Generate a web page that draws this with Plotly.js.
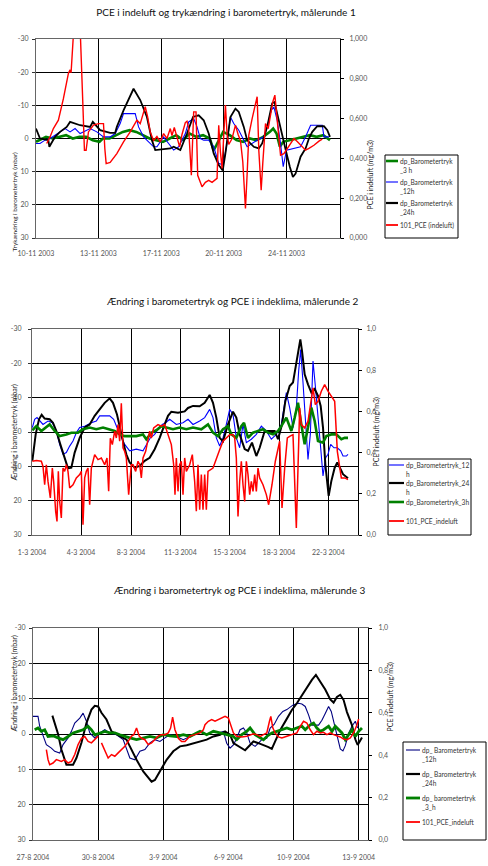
<!DOCTYPE html>
<html>
<head>
<meta charset="utf-8">
<script src="https://cdn.plot.ly/plotly-3.0.1.min.js"></script>
<style>html,body{margin:0;padding:0;background:#fff;}#chart{width:488px;height:866px;}</style>
</head>
<body>
<div id="chart"></div>
<script>
// ---------- tick labels ----------
const x1Ticks = [0, 187, 375, 562, 750];
const x1Labels = ["10-11 2003", "13-11 2003", "17-11 2003", "20-11 2003", "24-11 2003"];
const x2Ticks = [0, 147, 297, 445, 593, 741, 889];
const x2Labels = ["1-3 2004", "4-3 2004", "8-3 2004", "11-3 2004", "15-3 2004", "18-3 2004", "22-3 2004"];
const x3Ticks = [0, 195, 390, 585, 780, 975];
const x3Labels = ["27-8 2004", "30-8 2004", "3-9 2004", "6-9 2004", "10-9 2004", "13-9 2004"];
const yLeftVals = [-30, -20, -10, 0, 10, 20, 30];
const yLeftText = ["-30", "-20", "-10", "0", "10", "20", "30"];
const yRightVals = [0, 0.2, 0.4, 0.6, 0.8, 1.0];
const yRight1Text = ["0,000", "0,200", "0,400", "0,600", "0,800", "1,000"];
const yRight23Text = ["0,0", "0,2", "0,4", "0,6", "0,8", "1,0"];

// ---------- målerunde 1 ----------
const g1x = [0,10,30,50,70,90,110,130,150,170,190,200,220,240,260,280,300,320,340,360,380,400,420,440,460,480,500,520,532,540,550,560,580,600,620,640,660,680,700,710,720,730,740,760,780,800,820,840,860,880];
const g1y = [1,0.5,-0.5,0,-0.5,-1,0,-0.5,-0.5,0.5,1,0,0,-1,-2,-2.5,-2,-1,0,0.5,1,0,-1,0.5,-1.5,-0.5,-1,0,3.5,2,0,-2,-1,0.5,1,0,0.5,-0.5,-2,-3,-1.5,2.5,1,0.5,0,-0.5,-1,-0.5,-1,0.5];
const b1x = [0,12,27,42,57,72,87,102,117,132,142,162,182,202,222,237,252,262,297,307,322,337,342,352,362,382,397,412,427,437,447,457,472,482,492,502,517,532,547,560,570,582,592,607,622,632,662,682,692,704,712,722,732,740,750,792,807,822,857,862,877];
const b1y = [1.5,1.5,0.5,0,-1,-2,-3,-2,-3,-1.5,-2,-3,-2,-0.5,-0.5,-1.5,-4.5,-7.5,-7.5,-3.5,-0.5,1,1.5,2.5,2.5,-0.5,1.5,3.5,2.5,0.5,-1.5,-5,-6,-3.5,0,0.5,0.5,2.5,7.5,8,2.5,-6.5,-4.5,-2.5,0.5,2.5,0.5,-0.5,-3.5,-8.5,-9.5,-5.5,1.5,8.5,3.5,2.5,-0.5,-4,-4,-0.5,-0.5];
const k1x = [0,12,37,40,57,72,92,102,132,162,170,192,222,237,242,262,292,312,332,347,357,402,412,432,452,470,487,502,517,532,547,559,567,582,597,607,622,632,652,667,677,692,707,714,722,737,750,760,769,777,792,807,817,827,842,862,872,880];
const k1y = [-3,0,0.5,2.5,-0.5,-2,-3.5,-5,-4,-3.5,-5,-2.5,-1.7,-1.7,-3.5,-8.5,-15,-11.6,-6.5,0.5,3.5,3,2.5,3.5,-1.5,-6.5,-7,-5.5,-1.5,4.5,8,9.6,4.5,-6.5,-9,-8,-3.5,0.5,2.5,3,1.5,-3.5,-10.6,-11,-7.5,-0.5,4.5,8.6,11.6,10.6,5.5,3,0,-2,-3.7,-3.7,-2.5,-0.5];
const r1x = [32,42,52,67,82,97,102,105,113,118,128,134,140,145,150,157,172,187,202,206,210,222,242,262,282,302,312,327,334,342,352,362,372,382,392,402,407,414,422,430,437,447,452,457,465,472,479,484,497,507,517,527,542,547,552,557,562,567,572,577,587,597,605,612,619,627,632,637,647,657,662,667,674,679,687,695,702,709,715,722,732,742,752,762,772,782,792,807,817,832,847,857];
const r1y = [0.475,0.508,0.55,0.592,0.70,0.827,0.845,0.83,1.05,1.25,1.25,1.0,0.685,0.441,0.441,0.533,0.567,0.575,0.575,0.45,0.374,0.38,0.424,0.483,0.533,0.592,0.575,0.66,0.61,0.533,0.49,0.51,0.483,0.525,0.5,0.55,0.515,0.555,0.5,0.458,0.52,0.58,0.587,0.55,0.315,0.634,0.634,0.315,0.257,0.28,0.29,0.28,0.3,0.567,0.433,0.349,0.517,0.668,0.52,0.47,0.5,0.567,0.52,0.49,0.383,0.148,0.32,0.517,0.60,0.668,0.71,0.44,0.24,0.38,0.575,0.55,0.617,0.685,0.718,0.584,0.416,0.424,0.45,0.47,0.5,0.485,0.466,0.441,0.45,0.466,0.487,0.497];

// ---------- målerunde 2 ----------
const b2x = [1,8,15,23,33,48,61,73,83,93,103,113,123,133,143,158,178,193,203,233,245,255,265,278,293,313,333,343,355,368,378,391,401,413,433,453,468,483,503,518,533,543,553,563,573,583,593,603,613,623,633,643,658,673,688,703,718,733,748,763,773,783,793,800,806,813,820,828,835,843,850,858,866,873,881,888,896,906,916,926,933,943,948];
const b2y = [-1.3,-3.7,-4.2,-3.2,-2.2,-3.2,-2.7,-0.3,3.6,6.5,6,4.1,2.6,0.2,-1.3,-1.7,-2.7,-3.2,-4.7,-4.7,-3.7,-1.3,0.7,3.6,5.5,5,5.5,3.6,1.7,0.7,-0.8,-2.2,-2.7,-3.7,-2.2,-2.7,-3.7,-2.2,-3.2,-4.2,-6.6,-4.2,1.7,4.1,1.7,-2.2,-6.6,-5.1,1.7,4.6,-2.2,3.1,2.1,0.7,-1.7,-0.3,2.1,0.7,-2.2,-11.5,-7.1,-1.3,-7.1,-17.8,-24,-14.4,-3.2,8,0.7,-20.7,-13.4,-5.1,4.6,12.8,7.5,6.5,3.6,4.6,4.6,5.5,7,7,6.5];
const k2x = [1,11,21,29,38,53,63,73,85,98,108,118,128,143,158,173,188,203,218,233,243,255,265,275,283,293,308,323,338,353,368,383,398,408,418,438,458,468,483,503,518,533,543,553,563,573,588,603,613,623,638,648,660,673,683,698,713,728,738,750,760,773,783,793,800,805,810,818,828,838,848,858,866,873,880,890,898,908,916,923,933,948];
const k2y = [8.4,0.7,-3.7,-5,-3.9,-3.7,-2.7,-0.3,3.6,8,10.6,10.4,6,1.7,-1.3,-2.2,-4.7,-6.6,-8.5,-9.8,-8.5,-5.1,-0.3,3.6,6.5,8.9,10.4,9.9,8.4,7.5,5,1.7,-2.2,-4.7,-5.9,-5.6,-6,-7,-7.6,-7.5,-8.5,-10.8,-8.5,-4.2,1.7,2.7,-2.2,-5.9,-4.2,0.7,5,5.5,3.1,7,4.6,-0.3,-0.3,-0.3,2.1,-2.2,-9,-13.4,-14.4,-19.7,-24.6,-27,-23.6,-16.8,-13.9,-11.5,-12.5,-10.5,-7.6,-1.3,9.4,18.6,14.3,10.4,8.9,10.4,12.3,13.5];
const g2x = [1,13,28,43,53,68,83,103,118,138,153,173,193,213,233,248,263,278,293,313,333,343,358,373,388,403,423,443,463,483,508,528,543,558,573,588,598,613,628,636,648,663,678,693,708,723,738,748,763,778,788,798,808,818,828,838,848,858,873,883,898,913,928,938,948];
const g2y = [-0.5,-1.7,-0.3,-1.3,-2.2,-0.3,1.2,0.7,0.2,0.2,-0.8,-1.3,-0.8,-1.3,-0.8,-0.3,0.7,1.2,1.2,1.2,0.7,2.1,0.2,-0.5,-1.7,-1.3,-0.8,-1.3,-0.8,-1.3,-0.8,-2.2,0.2,1.2,-0.8,-1.7,0.7,1.7,-1.7,-2.7,1.7,0.2,-0.3,-0.8,0.2,0.7,-0.3,-1.7,-4.2,-0.3,-4.2,-8.5,-2.2,3.6,-1.3,-7.1,-3.2,2.6,3.1,1.2,0.7,0.7,2.1,1.7,1.7];
const r2x = [1,13,28,33,38,43,48,55,61,65,71,75,79,83,88,93,98,103,108,113,123,133,143,148,153,158,163,168,173,178,188,198,208,218,225,230,235,241,248,253,258,263,268,273,278,283,290,298,303,311,318,323,328,333,341,348,353,358,365,378,388,398,408,418,425,429,433,438,443,448,453,458,463,473,481,488,493,498,503,508,513,518,523,528,543,553,563,573,583,593,603,608,613,618,623,628,633,638,643,648,653,658,663,668,673,678,683,693,703,710,720,730,743,750,758,766,773,783,793,803,808,818,828,838,843,850,858,868,878,888,898,908,916,923,928,938,948];
const r2y = [0.358,0.361,0.358,0.333,0.244,0.341,0.26,0.18,0.325,0.26,0.115,0.066,0.309,0.163,0.083,0.325,0.309,0.341,0.309,0.228,0.244,0.277,0.293,0.309,0.05,0.277,0.309,0.325,0.147,0.325,0.39,0.366,0.374,0.341,0.374,0.212,0.47,0.439,0.504,0.471,0.536,0.455,0.64,0.423,0.406,0.374,0.196,0.341,0.341,0.309,0.358,0.341,0.277,0.374,0.406,0.455,0.504,0.471,0.52,0.536,0.528,0.536,0.487,0.439,0.341,0.196,0.374,0.212,0.341,0.358,0.196,0.374,0.309,0.341,0.39,0.26,0.115,0.341,0.123,0.293,0.123,0.293,0.123,0.309,0.325,0.374,0.414,0.455,0.471,0.487,0.487,0.471,0.374,0.09,0.26,0.358,0.244,0.163,0.358,0.293,0.196,0.26,0.212,0.293,0.212,0.325,0.277,0.244,0.196,0.147,0.244,0.358,0.455,0.131,0.325,0.471,0.479,0.487,0.034,0.617,0.536,0.52,0.552,0.665,0.714,0.633,0.649,0.698,0.73,0.698,0.673,0.649,0.406,0.342,0.277,0.277,0.269];

// ---------- målerunde 3 ----------
const b3x = [0,15,20,30,40,55,65,80,90,105,115,125,140,150,160,170,185,200,215,230,250,270,280,290,305,320,335,350,365,380,395,410,430,450,470,490,505,520,540,555,570,580,590,600,610,620,630,640,650,665,675,685,700,710,722,735,748,760,780,795,805,815,825,835,855,865,875,885,893,900,910,920,928,935,945,955,965,972];
const b3y = [-5,-5,-2.2,0.7,3,4,4.9,5.4,3,1.1,-0.75,-3.1,-4.5,-5.9,-3.6,-0.3,1.1,-0.3,-1.2,-0.3,0.2,1.6,4.4,6.8,7.3,4.9,4.4,2.5,1.6,2.1,1.1,0.2,0.7,1.6,0.7,-0.3,-0.75,0.2,-0.75,-0.3,-0.75,2.6,4,3.1,1.2,-1.2,-1.7,-0.3,2.6,3.5,2.6,1.6,1.2,-1.7,-2.7,-5,-6.4,-6.9,-8.3,-8.7,-8.5,-7.8,-5.4,-2.5,-2.5,-3.9,-5.8,-7.8,-6.4,-3.6,0.5,4.2,4.8,3.3,-0.2,-2.2,-3.6,-1.7];
const k3x = [58,75,85,100,120,130,145,160,175,185,195,205,220,235,255,280,290,310,330,345,355,365,385,400,420,440,460,480,500,520,540,560,575,590,600,620,635,650,660,675,690,705,715,725,740,755,775,790,805,820,835,847,860,875,890,900,910,920,930,940,955,965,972,980,985];
const k3y = [-5.2,0,4.4,8.7,8.7,6.8,2.5,-3.1,-6.9,-8,-7.8,-6,-4.1,-0.75,0.3,1.6,3.5,7.3,10.6,12.5,13.5,13,9.6,7.3,4.9,3.5,3.2,2.7,2.1,1.6,0.7,0.2,-0.75,0.2,2.6,3.7,4.6,3.1,2.1,2.6,3.1,3.7,4.2,2.1,-1.1,-3.5,-6.8,-8.7,-11,-13.4,-15.3,-16.7,-14.8,-12.6,-9.8,-8.9,-10.5,-11.1,-9.6,-6.2,-2.5,1.5,3.1,1.6,1];
const g3x = [5,15,25,35,45,60,75,90,105,120,135,150,165,175,185,200,215,230,245,260,275,290,310,330,350,370,390,410,430,450,470,490,500,520,540,560,580,600,610,625,640,650,665,680,690,700,715,730,745,760,775,790,805,815,830,840,850,860,870,885,895,905,915,925,935,945,955,965,975,985];
const g3y = [-1.2,-1.7,-0.75,-1.2,0.7,0.5,1.1,1.6,0.7,-0.3,-0.75,-1.2,-2.2,-1.2,0.2,-0.3,-0.75,-0.3,-0.3,0.2,0.7,1.1,1.6,1.1,0.7,1.1,0.2,0.5,0.7,0.2,0.7,-0.3,-0.75,0.2,-0.75,-0.3,0.2,0.7,1.6,0.2,-0.75,-1.7,0.2,1.1,1.6,0.7,-0.3,-0.75,-1.2,-1.7,-1.2,-1.7,-2.2,-1.2,-2.6,-3.1,-1.7,-0.75,-1.2,-2.2,-0.75,-2.2,-1.2,-0.3,1.6,0.2,-1.2,0.7,-0.75,-1.7];
const r3x = [40,45,50,60,70,85,95,105,115,125,135,145,155,165,175,185,195,200,205,215,225,235,245,255,265,275,285,295,302,310,318,325,335,345,355,365,375,385,395,405,412,418,425,435,445,455,470,485,500,510,515,525,535,545,555,565,575,585,592,600,610,625,640,650,660,670,680,690,700,708,712,718,725,735,745,760,775,790,800,810,820,830,840,850,860,870,880,890,900,910,920,930,940,950,960,970,975];
const r3y = [0.426,0.379,0.355,0.363,0.379,0.371,0.379,0.363,0.371,0.403,0.45,0.48,0.488,0.465,0.458,0.473,0.49,null,0.458,0.418,0.387,0.403,0.395,0.411,0.426,0.442,0.465,0.49,0.497,0.528,0.49,0.48,0.473,0.45,0.458,0.473,0.49,0.497,0.497,0.505,0.528,0.58,0.52,0.48,0.465,0.465,0.49,0.497,0.505,0.52,0.544,0.56,0.568,0.56,0.568,0.575,0.583,0.575,0.544,0.505,0.489,0.486,0.489,0.497,0.501,0.497,0.489,0.497,0.505,0.56,0.583,0.529,0.505,0.486,0.481,0.489,0.497,0.505,0.536,0.56,0.552,0.52,0.497,0.513,0.505,0.508,0.497,0.505,0.497,0.493,0.486,0.476,0.473,0.481,0.505,0.544,0.571];

// ---------- titles & names ----------
const titles = [
  "PCE i indeluft og trykændring i barometertryk, målerunde 1",
  "Ændring i barometertryk og PCE i indeklima, målerunde 2",
  "Ændring i barometertryk og PCE i indeklima, målerunde 3"
];
const leftTitles = ["Trykændring i barometertryk (mbar)", "Ændring i barometertryk (mbar)", "Ændring i barometertryk (mbar)"];
const rightTitle = "PCE i indeluft (mg/m3)";
const names1 = ["dp_Barometertryk<br>_3 h", "dp_Barometertryk<br>_12h", "dp_Barometertryk<br>_24h", "101_PCE (indeluft)"];
const names2 = ["dp_Barometertryk_12<br>h", "dp_Barometertryk_24<br>h", "dp_Barometertryk_3h", "101_PCE_indeluft"];
const names3 = ["dp_ Barometertryk<br>_12h", "dp_ Barometertryk<br>_24h", "dp_ barometertryk<br>_3_h", "101_PCE_indeluft"];

// ---------- styling ----------
const FONT = "Lato, 'Open Sans', sans-serif";
const GREEN = "#008000", BLUE = "#0000ff", NAVY = "#000080", BLACK = "#000000", RED = "#ff0000";
const W = 488, H = 866;
const px = v => v / W;
const py = v => 1 - v / H;

function tr(x, y, xa, ya, color, width, name) {
  return {x: x, y: y, xaxis: xa, yaxis: ya, type: 'scatter', mode: 'lines', name: name,
          line: {color: color, width: width}, showlegend: false, connectgaps: false, hoverinfo: 'skip'};
}

const data = [
  tr(g1x, g1y, 'x', 'y', GREEN, 2.6, names1[0]),
  tr(b1x, b1y, 'x', 'y', BLUE, 1.1, names1[1]),
  tr(k1x, k1y, 'x', 'y', BLACK, 1.8, names1[2]),
  tr(r1x, r1y, 'x', 'y2', RED, 1.4, names1[3]),
  tr(b2x, b2y, 'x2', 'y3', BLUE, 1.1, names2[0]),
  tr(k2x, k2y, 'x2', 'y3', BLACK, 2.0, names2[1]),
  tr(g2x, g2y, 'x2', 'y3', GREEN, 2.6, names2[2]),
  tr(r2x, r2y, 'x2', 'y4', RED, 1.5, names2[3]),
  tr(b3x, b3y, 'x3', 'y5', NAVY, 1.1, names3[0]),
  tr(k3x, k3y, 'x3', 'y5', BLACK, 2.0, names3[1]),
  tr(g3x, g3y, 'x3', 'y5', GREEN, 2.8, names3[2]),
  tr(r3x, r3y, 'x3', 'y6', RED, 1.5, names3[3])
];

const tickFont = {family: FONT, size: 7, color: '#555'};
function xAx(dom, anchor, rng, tv, tt, standoff) {
  return {domain: dom, anchor: anchor, range: rng, tickvals: tv, ticktext: tt, showgrid: true,
          gridcolor: '#000', gridwidth: 1, zeroline: false, showline: true, linecolor: '#666',
          linewidth: 1, mirror: true, ticks: '', tickfont: tickFont, ticklabelstandoff: standoff, fixedrange: true};
}
function yAxL(dom, anchor, standoff) {
  return {domain: dom, anchor: anchor, range: [30, -30], tickvals: yLeftVals, ticktext: yLeftText,
          showgrid: true, gridcolor: '#000', gridwidth: 1, zeroline: false, showline: true,
          linecolor: '#666', linewidth: 1, mirror: true, ticks: 'outside', ticklen: 3, tickcolor: '#333',
          tickwidth: 1, tickfont: tickFont, ticklabelstandoff: standoff, fixedrange: true};
}
function yAxR(over, anchor, tt, standoff) {
  return {overlaying: over, anchor: anchor, side: 'right', range: [0, 1], tickvals: yRightVals,
          ticktext: tt, showgrid: false, zeroline: false, showline: true, linecolor: '#000',
          linewidth: 1, ticks: 'outside', ticklen: 3, tickcolor: '#000', tickwidth: 1,
          tickfont: tickFont, ticklabelstandoff: standoff, fixedrange: true};
}

const annotations = [];
const shapes = [];
function note(text, x, y, opts) {
  annotations.push(Object.assign({text: text, x: px(x), y: py(y), xref: 'paper', yref: 'paper',
    showarrow: false, font: {family: FONT, size: 7, color: '#222'}}, opts || {}));
}
const titleFont = {family: FONT, size: 10, color: '#111'};
// chart titles 2 and 3
note(titles[1], 232, 301, {font: titleFont});
note(titles[2], 239, 598, {font: titleFont});
// axis titles
note(leftTitles[0], 8, 150, {textangle: -90, font: {family: FONT, size: 6.4, color: '#222'}});
note(leftTitles[1], 7, 433, {textangle: -90});
note(leftTitles[2], 7, 735, {textangle: -90});
note(rightTitle, 377, 138, {textangle: -90});
note(rightTitle, 382, 432, {textangle: -90});
note(rightTitle, 396, 734, {textangle: -90});

// legends
const legendSpecs = [
  {box: [385, 155, 458, 238], sw: [386, 398], tx: 399, rows: [161, 182, 203, 225], names: names1,
   colors: [GREEN, BLUE, BLACK, RED], widths: [2.6, 1.1, 2.2, 1.8]},
  {box: [388, 459, 471, 535], sw: [389, 404], tx: 405, rows: [465, 483, 502, 521], names: names2,
   colors: [BLUE, BLACK, GREEN, RED], widths: [1.1, 2.2, 2.6, 1.8]},
  {box: [403, 742, 486, 840], sw: [406, 420], tx: 421, rows: [750, 774, 798, 822], names: names3,
   colors: [NAVY, BLACK, GREEN, RED], widths: [1.1, 2.2, 2.8, 1.8]}
];
legendSpecs.forEach(L => {
  shapes.push({type: 'rect', xref: 'paper', yref: 'paper', x0: px(L.box[0]), x1: px(L.box[2]),
               y0: py(L.box[3]), y1: py(L.box[1]), line: {color: '#000', width: 1}, fillcolor: '#fff', layer: 'above'});
  L.rows.forEach((r, i) => {
    shapes.push({type: 'line', xref: 'paper', yref: 'paper', x0: px(L.sw[0]), x1: px(L.sw[1]),
                 y0: py(r), y1: py(r), line: {color: L.colors[i], width: L.widths[i]}, layer: 'above'});
    note(L.names[i], L.tx, r - 4.6, {xanchor: 'left', yanchor: 'top', align: 'left', borderpad: 0,
         font: {family: FONT, size: 6.6, color: '#333'}});
  });
});

const layout = {
  width: W, height: H, margin: {l: 0, r: 0, t: 0, b: 0}, paper_bgcolor: '#fff', plot_bgcolor: '#fff',
  showlegend: false, font: {family: FONT, size: 7, color: '#333'},
  title: {text: titles[0], x: px(226), y: py(12), xanchor: 'center', yanchor: 'middle', font: titleFont},
  xaxis: xAx([px(36), px(340)], 'y', [0, 910], x1Ticks, x1Labels, 9),
  yaxis: yAxL([py(238), py(39)], 'x', 2),
  yaxis2: yAxR('y', 'x', yRight1Text, 4),
  xaxis2: xAx([px(32), px(358)], 'y3', [0, 978], x2Ticks, x2Labels, 11),
  yaxis3: yAxL([py(535), py(329)], 'x2', 5),
  yaxis4: yAxR('y3', 'x2', yRight23Text, 3),
  xaxis3: xAx([px(33), px(368)], 'y5', [0, 1003], x3Ticks, x3Labels, 11),
  yaxis5: yAxL([py(840), py(628)], 'x3', 2),
  yaxis6: yAxR('y5', 'x3', yRight23Text, 5),
  annotations: annotations,
  shapes: shapes
};

Plotly.newPlot('chart', data, layout, {displayModeBar: false, staticPlot: true});
</script>
</body>
</html>
